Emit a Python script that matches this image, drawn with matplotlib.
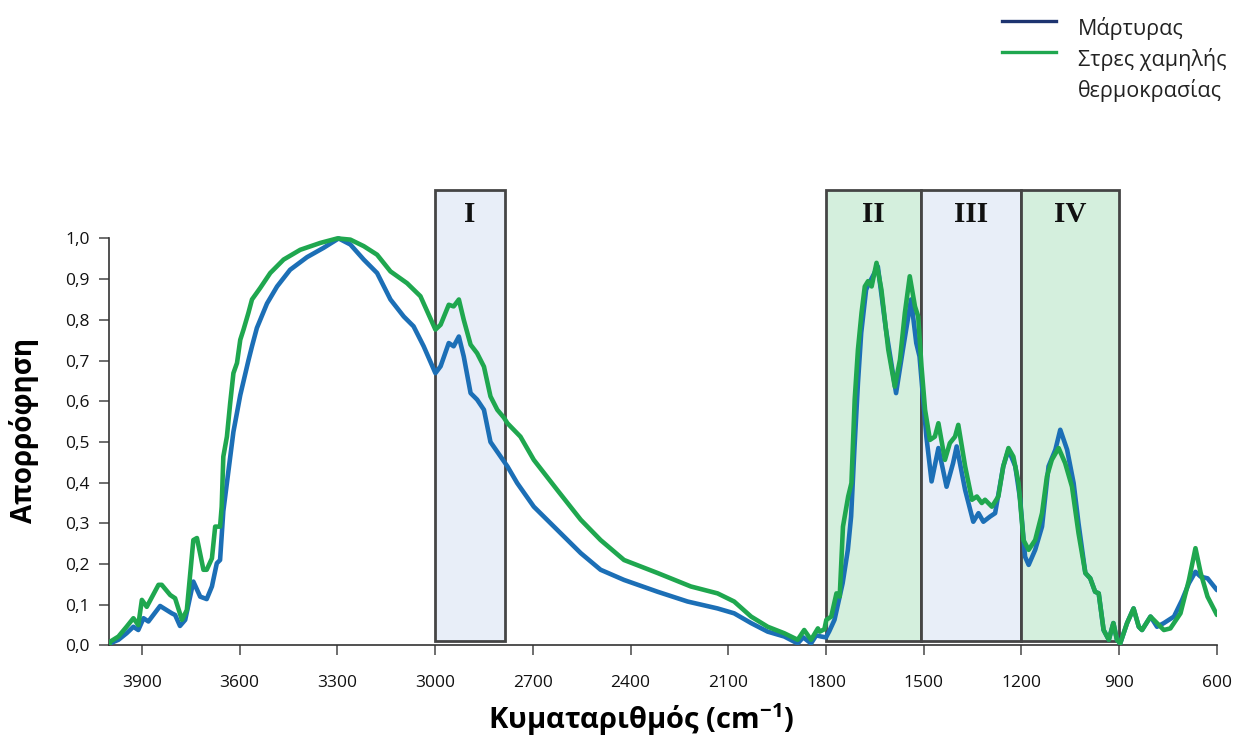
import matplotlib
matplotlib.use("Agg")
import matplotlib.pyplot as plt
from matplotlib.patches import Rectangle
from matplotlib.lines import Line2D

# FTIR spectra (normalised absorbance vs wavenumber, cm-1)
wn_control = [4000, 3998, 3972, 3947, 3926, 3911, 3895, 3880, 3844, 3808, 3798, 3783, 3767,
              3742, 3721, 3701, 3685, 3670, 3660, 3650, 3634, 3619, 3598, 3573, 3562, 3547,
              3516, 3485, 3445, 3393, 3342, 3296, 3260, 3219, 3178, 3137, 3096, 3066, 3035,
              2999, 2983, 2958, 2943, 2927, 2912, 2891, 2871, 2850, 2830, 2799, 2778, 2748,
              2697, 2625, 2553, 2492, 2420, 2317, 2225, 2133, 2082, 2030, 1979, 1928, 1887,
              1870, 1846, 1830, 1815, 1800, 1790, 1774, 1749, 1733, 1723, 1713, 1702, 1692,
              1677, 1667, 1641, 1616, 1585, 1564, 1539, 1523, 1513, 1492, 1476, 1455, 1430,
              1410, 1399, 1373, 1348, 1332, 1317, 1296, 1281, 1256, 1240, 1219, 1204, 1189,
              1178, 1158, 1137, 1117, 1096, 1081, 1060, 1040, 1025, 1004, 989, 974, 963,
              948, 932, 918, 907, 897, 876, 856, 840, 830, 804, 784, 763, 732, 707, 686,
              666, 650, 629, 600]
abs_control = [0.000, 0.005, 0.014, 0.030, 0.046, 0.038, 0.067, 0.059, 0.097, 0.079, 0.075, 0.048, 0.063,
               0.157, 0.120, 0.114, 0.145, 0.202, 0.210, 0.330, 0.431, 0.525, 0.615, 0.700, 0.735, 0.780,
               0.840, 0.882, 0.923, 0.954, 0.977, 1.000, 0.985, 0.948, 0.915, 0.850, 0.808, 0.784, 0.735,
               0.669, 0.686, 0.743, 0.735, 0.759, 0.710, 0.620, 0.604, 0.579, 0.500, 0.464, 0.440, 0.399,
               0.341, 0.284, 0.227, 0.186, 0.161, 0.132, 0.108, 0.091, 0.079, 0.055, 0.034, 0.022, 0.005,
               0.020, 0.005, 0.025, 0.022, 0.020, 0.035, 0.063, 0.153, 0.235, 0.317, 0.481, 0.645, 0.768,
               0.874, 0.891, 0.931, 0.776, 0.620, 0.727, 0.850, 0.743, 0.710, 0.513, 0.403, 0.485, 0.390,
               0.448, 0.489, 0.382, 0.304, 0.325, 0.304, 0.317, 0.325, 0.440, 0.481, 0.440, 0.358, 0.218,
               0.198, 0.235, 0.292, 0.440, 0.481, 0.530, 0.481, 0.399, 0.300, 0.178, 0.165, 0.132, 0.128,
               0.038, 0.014, 0.055, 0.014, 0.005, 0.055, 0.091, 0.046, 0.038, 0.071, 0.046, 0.055, 0.071, 0.112, 0.153,
               0.181, 0.169, 0.165, 0.136]

wn_stress = [4000, 3998, 3972, 3947, 3926, 3911, 3900, 3885, 3849, 3839, 3813, 3798, 3777,
             3762, 3742, 3731, 3711, 3701, 3685, 3675, 3660, 3655, 3650, 3639, 3629, 3619,
             3608, 3598, 3588, 3573, 3562, 3537, 3506, 3465, 3414, 3352, 3300, 3260, 3219,
             3178, 3137, 3086, 3045, 2999, 2983, 2958, 2943, 2927, 2912, 2891, 2871, 2850,
             2830, 2809, 2789, 2778, 2738, 2697, 2625, 2553, 2492, 2420, 2317, 2215, 2133,
             2082, 2030, 1979, 1928, 1887, 1867, 1846, 1825, 1819, 1805, 1799, 1784, 1768,
             1758, 1748, 1732, 1722, 1712, 1702, 1691, 1681, 1671, 1660, 1645, 1630, 1609,
             1589, 1573, 1558, 1543, 1527, 1517, 1507, 1496, 1481, 1466, 1455, 1435, 1420,
             1404, 1394, 1373, 1352, 1337, 1322, 1312, 1291, 1271, 1256, 1240, 1225, 1209,
             1194, 1178, 1158, 1137, 1122, 1107, 1086, 1066, 1045, 1025, 1004, 989, 974,
             963, 948, 932, 918, 907, 897, 876, 856, 840, 830, 804, 763, 743, 712, 686,
             666, 650, 629, 600]
abs_stress = [0.000, 0.009, 0.022, 0.046, 0.067, 0.050, 0.112, 0.095, 0.149, 0.149, 0.124, 0.116, 0.063,
              0.087, 0.259, 0.264, 0.186, 0.186, 0.214, 0.292, 0.292, 0.341, 0.464, 0.513, 0.595, 0.669,
              0.694, 0.751, 0.776, 0.817, 0.850, 0.878, 0.915, 0.948, 0.972, 0.989, 1.000, 0.997, 0.981,
              0.960, 0.919, 0.890, 0.858, 0.776, 0.788, 0.837, 0.833, 0.850, 0.800, 0.739, 0.718, 0.685,
              0.612, 0.579, 0.560, 0.546, 0.513, 0.456, 0.382, 0.309, 0.259, 0.210, 0.178, 0.145, 0.128,
              0.108, 0.071, 0.046, 0.030, 0.014, 0.038, 0.014, 0.042, 0.034, 0.040, 0.063, 0.071, 0.128,
              0.120, 0.292, 0.366, 0.399, 0.604, 0.727, 0.817, 0.882, 0.895, 0.882, 0.940, 0.874, 0.727,
              0.636, 0.702, 0.817, 0.907, 0.833, 0.808, 0.686, 0.579, 0.505, 0.513, 0.546, 0.456, 0.497,
              0.513, 0.542, 0.440, 0.358, 0.366, 0.350, 0.358, 0.341, 0.366, 0.440, 0.485, 0.464, 0.399,
              0.259, 0.235, 0.259, 0.325, 0.415, 0.456, 0.485, 0.448, 0.390, 0.276, 0.178, 0.165, 0.132,
              0.128, 0.038, 0.014, 0.055, 0.014, 0.005, 0.055, 0.091, 0.046, 0.038, 0.071, 0.038, 0.042, 0.079, 0.161,
              0.239, 0.178, 0.120, 0.075]

series_labels = ["Μάρτυρας", "Στρες χαμηλής\nθερμοκρασίας"]

# Spectral regions I-IV (start, end in cm-1)
region_bounds = [(3000, 2785), (1800, 1510), (1510, 1200), (1200, 900)]
region_names = ["I", "II", "III", "IV"]

x_ticks = [3900, 3600, 3300, 3000, 2700, 2400, 2100, 1800, 1500, 1200, 900, 600]
y_ticks = [0.0, 0.1, 0.2, 0.3, 0.4, 0.5, 0.6, 0.7, 0.8, 0.9, 1.0]

blue = "#1c6fb6"
green = "#1fa74f"
region_fill = ["#e8eef8", "#d4efdd", "#e8eef8", "#d4efdd"]
edge = "#454545"
sans = ["Open Sans", "DejaVu Sans"]

plt.rcParams["mathtext.fontset"] = "custom"
plt.rcParams["mathtext.bf"] = "Open Sans:bold"
plt.rcParams["mathtext.rm"] = "Open Sans"

fig = plt.figure(figsize=(12.35, 7.51), dpi=100)
ax = fig.add_axes([0.0885, 0.1405, 0.8969, 0.6125])

for (x0, x1), name, fc in zip(region_bounds, region_names, region_fill):
    ax.add_patch(Rectangle((x0, 0.01), x1 - x0, 1.11, facecolor=fc,
                           edgecolor=edge, linewidth=2.0, zorder=1))
    ax.text((x0 + x1) / 2, 1.058, name, ha="center", va="center",
            fontsize=21, fontweight="bold", family="Liberation Serif",
            color="#111111", zorder=4)

ax.plot(wn_control, abs_control, color=blue, lw=3.3, solid_joinstyle="round",
        solid_capstyle="round", zorder=3)
ax.plot(wn_stress, abs_stress, color=green, lw=3.3, solid_joinstyle="round",
        solid_capstyle="round", zorder=3)

ax.set_xlim(4000, 600)
ax.set_ylim(0, 1.13)
ax.set_xticks(x_ticks)
ax.set_yticks(y_ticks)
ax.set_xticklabels([str(t) for t in x_ticks])
ax.set_yticklabels([f"{t:.1f}".replace(".", ",") for t in y_ticks])

for s in ["top", "right"]:
    ax.spines[s].set_visible(False)
for s in ["left", "bottom"]:
    ax.spines[s].set_color("#333333")
    ax.spines[s].set_linewidth(1.2)
ax.spines["left"].set_bounds(0, 1.0)

ax.tick_params(axis="x", direction="out", length=7, width=1.2, color="#555555",
               pad=14, labelsize=12.5, labelcolor="#111111")
ax.tick_params(axis="y", direction="out", length=7, width=1.2, color="#555555",
               pad=7, labelsize=12.5, labelcolor="#111111")
for lab in ax.get_xticklabels() + ax.get_yticklabels():
    lab.set_family(sans)

fig.text(24 / 1235, 1 - 430 / 751, "Απορρόφηση", rotation=90, ha="center",
         va="center", fontsize=20, fontweight="bold", family=sans)
fig.text(641 / 1235, 1 - 720 / 751, r"Κυματαριθμός (cm$^{\mathbf{-1}}$)", ha="center",
         va="center", fontsize=21, fontweight="bold", family=sans)

# Legend drawn in figure coordinates
legend_colors = ["#1d3470", green]
legend_y = [1 - 21 / 751, 1 - 52 / 751]
for c, yy in zip(legend_colors, legend_y):
    fig.add_artist(Line2D([1002 / 1235, 1056 / 1235], [yy, yy], color=c, lw=2.4,
                          transform=fig.transFigure))
legend_lines = [series_labels[0]] + series_labels[1].split("\n")
for txt, base in zip(legend_lines, [35, 66, 97]):
    fig.text(1078 / 1235, 1 - base / 751, txt, ha="left", va="baseline",
             fontsize=15.5, family=sans, color="#222222")

fig.savefig("out.png", dpi=100)
